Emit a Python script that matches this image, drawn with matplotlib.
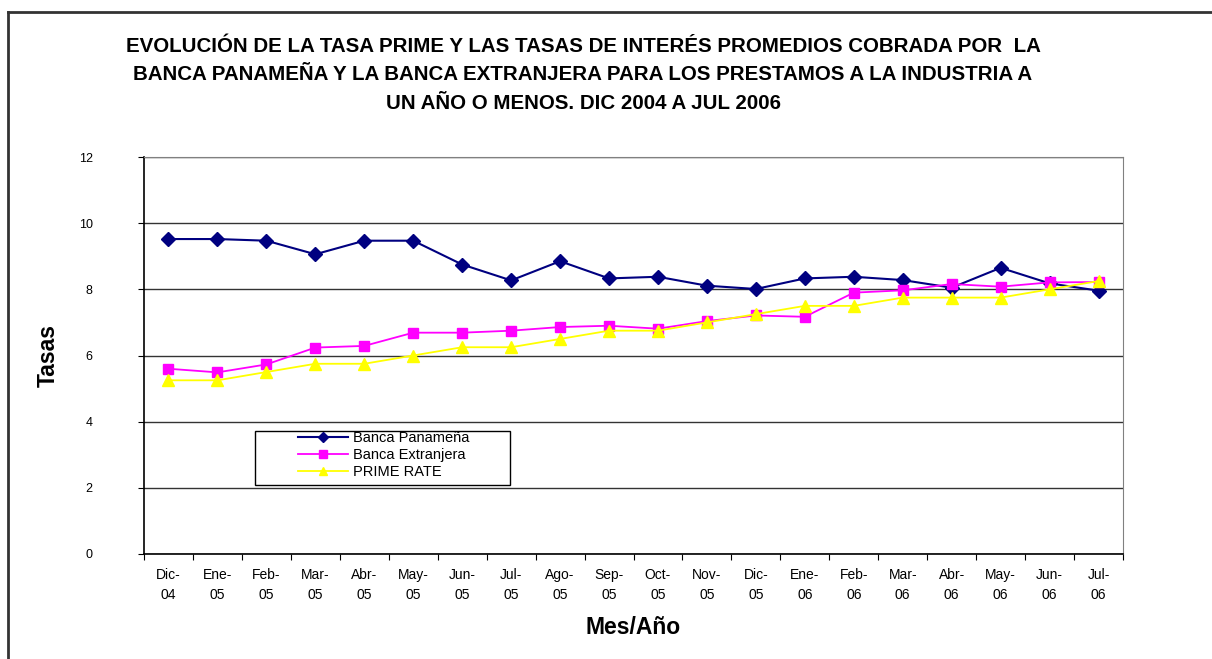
import matplotlib
matplotlib.use("Agg")
from matplotlib import pyplot as plt
from matplotlib.lines import Line2D
from matplotlib.patches import Rectangle
import numpy as np

plt.rcParams['font.family'] = ['Liberation Sans', 'DejaVu Sans']

meses = ["Dic-\n04", "Ene-\n05", "Feb-\n05", "Mar-\n05", "Abr-\n05", "May-\n05",
         "Jun-\n05", "Jul-\n05", "Ago-\n05", "Sep-\n05", "Oct-\n05", "Nov-\n05",
         "Dic-\n05", "Ene-\n06", "Feb-\n06", "Mar-\n06", "Abr-\n06", "May-\n06",
         "Jun-\n06", "Jul-\n06"]
banca_panamena = [9.52, 9.52, 9.47, 9.06, 9.47, 9.47, 8.75, 8.27, 8.85, 8.33,
                  8.38, 8.11, 8.01, 8.33, 8.38, 8.28, 8.05, 8.65, 8.18, 7.96]
banca_extranjera = [5.60, 5.49, 5.73, 6.24, 6.29, 6.69, 6.69, 6.75, 6.86, 6.90,
                    6.81, 7.04, 7.21, 7.17, 7.90, 7.97, 8.16, 8.08, 8.21, 8.22]
prime_rate = [5.25, 5.25, 5.50, 5.75, 5.75, 6.00, 6.25, 6.25, 6.50, 6.75,
              6.75, 7.00, 7.25, 7.50, 7.50, 7.75, 7.75, 7.75, 8.00, 8.25]

titulo = ("EVOLUCIÓN DE LA TASA PRIME Y LAS TASAS DE INTERÉS PROMEDIOS COBRADA POR  LA\n"
          "BANCA PANAMEÑA Y LA BANCA EXTRANJERA PARA LOS PRESTAMOS A LA INDUSTRIA A\n"
          "UN AÑO O MENOS. DIC 2004 A JUL 2006")

W, H = 1212, 659
fig = plt.figure(figsize=(W / 100, H / 100), dpi=100)
ax = fig.add_axes([144 / W, 1 - 554 / H, (1123 - 144) / W, (554 - 157) / H])

x = np.arange(len(meses))
ax.plot(x, banca_panamena, color='#000080', marker='D', markersize=7, linewidth=1.5,
        label='Banca Panameña', zorder=3)
ax.plot(x, banca_extranjera, color='#FF00FF', marker='s', markersize=7.5, linewidth=1.3,
        label='Banca Extranjera', zorder=4)
ax.plot(x, prime_rate, color='#FFFF00', marker='^', markersize=9, linewidth=1.3,
        label='PRIME RATE', zorder=5)

ax.set_xlim(-0.5, len(meses) - 0.5)
ax.set_ylim(0, 12)
ax.set_yticks(np.arange(0, 13, 2))
ax.yaxis.grid(True, color='#333333', linewidth=1)
ax.set_axisbelow(True)
ax.tick_params(axis='y', labelsize=9, length=4, pad=33, direction='out')

ax.set_xticks(np.arange(-0.5, len(meses), 1))
ax.set_xticklabels([])
ax.set_xticks(x, minor=True)
ax.set_xticklabels(meses, minor=True, fontsize=10, linespacing=1.6)
ax.tick_params(axis='x', which='major', length=4, direction='out')
ax.tick_params(axis='x', which='minor', length=0, pad=10)

ax.spines['top'].set_color('#808080')
ax.spines['right'].set_color('#808080')
ax.spines['left'].set_linewidth(1.2)
ax.spines['bottom'].set_linewidth(1.2)

ax.set_ylabel('Tasas', fontsize=16.5, fontweight='bold')
ax.yaxis.set_label_coords((48 - 144) / 979, 0.5)
ax.yaxis.label.set_va('center')
ax.set_xlabel('Mes/Año', fontsize=16.5, fontweight='bold')
ax.xaxis.set_label_coords(0.5, (554 - 627) / 397)
ax.xaxis.label.set_va('center')

fig.text(583 / W, 1 - 75 / H, titulo, ha='center', va='center', fontsize=14.8,
         fontweight='bold', linespacing=1.62)

# legend box as drawn in the original
ax.add_patch(Rectangle(((255 - 144) / 979, (554 - 485) / 397), (510 - 255) / 979, 54 / 397,
                       transform=ax.transAxes, facecolor='white', edgecolor='black',
                       linewidth=1, zorder=6))
leg = ax.legend(loc='upper left', bbox_to_anchor=((298 - 144) / 979, (554 - 431) / 397),
                frameon=False, fontsize=10.5, handlelength=3.4, borderpad=0,
                labelspacing=0.22, handletextpad=0.35, borderaxespad=0)
leg.set_zorder(7)
for h in leg.legend_handles:
    h.set_markersize(5.5)

# outer frame of the chart area
fig.add_artist(Line2D([8 / W, 8 / W], [0, 1 - 12 / H], color='#333333', linewidth=2))
fig.add_artist(Line2D([8 / W, 1], [1 - 12 / H, 1 - 12 / H], color='#333333', linewidth=2))

plt.savefig("out.png", dpi=100)
